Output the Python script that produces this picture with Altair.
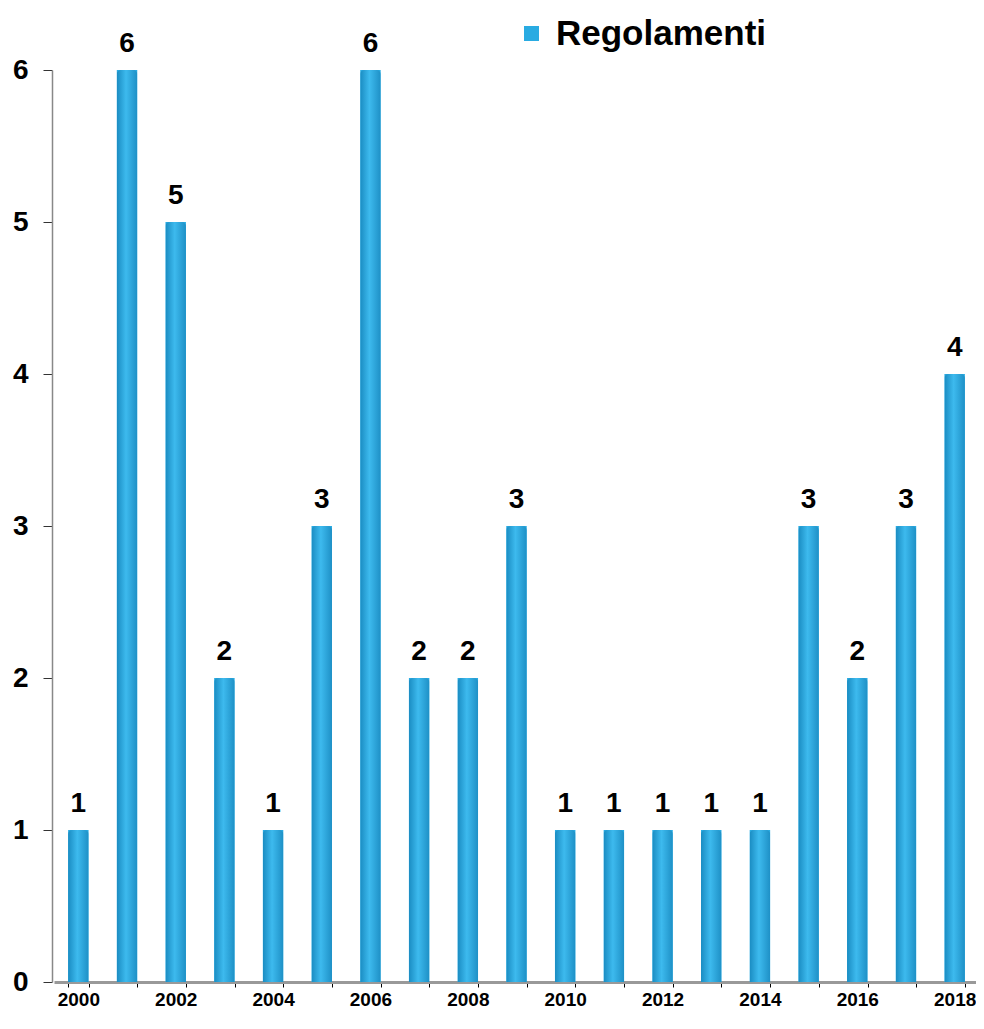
import altair as alt
import pandas as pd

years = [str(y) for y in range(2000, 2019)]
values = [1, 6, 5, 2, 1, 3, 6, 2, 2, 3, 1, 1, 1, 1, 1, 3, 2, 3, 4]
series = ["Regolamenti"] * len(years)

df = pd.DataFrame({"year": years, "value": values, "series": series})

FONT = "Liberation Sans"

x = alt.X("year:N", title=None, sort=years,
          scale=alt.Scale(paddingInner=0.58, paddingOuter=0.29, range=[2, 927]),
          axis=alt.Axis(labelAngle=0, labelFont=FONT, labelFontWeight="bold",
                        labelFontSize=19, labelColor="#000",
                        labelExpr="parseInt(datum.value) % 2 == 0 ? datum.value : ''",
                        tickBand="extent", tickColor="#000", tickSize=5,
                        domainColor="#999", domainWidth=3, labelPadding=3))
y = alt.Y("value:Q", title=None,
          scale=alt.Scale(domain=[0, 6], nice=False),
          axis=alt.Axis(values=[0, 1, 2, 3, 4, 5, 6], grid=False, labelFont=FONT,
                        labelFontWeight="bold", labelFontSize=28, labelColor="#000",
                        tickColor="#333", tickSize=9, domainColor="#888",
                        domainWidth=1.5, labelPadding=15))

bars = alt.Chart(df).mark_bar().encode(
    x=x, y=y,
    color=alt.Color("series:N", title=None,
                    scale=alt.Scale(range=["#29ABE2"]),
                    legend=alt.Legend(orient="none", legendX=462, legendY=-54,
                                      labelFont=FONT, labelFontWeight="bold",
                                      labelFontSize=35, labelColor="#000",
                                      labelLimit=500,
                                      symbolType="square", symbolSize=225,
                                      symbolStrokeWidth=0, labelOffset=7)),
)

shade = alt.Chart(df).mark_bar(
    color=alt.Gradient(gradient="linear", x1=0, x2=1, y1=0, y2=0,
                       stops=[alt.GradientStop(offset=0, color="#1A8CC2"),
                              alt.GradientStop(offset=0.45, color="#3DBAEE"),
                              alt.GradientStop(offset=1, color="#1E90C6")]),
    cornerRadiusTopLeft=4, cornerRadiusTopRight=4,
).encode(x=x, y=y)

labels = alt.Chart(df).mark_text(
    font=FONT, fontWeight="bold", fontSize=28, color="#000", dy=-12, baseline="bottom"
).encode(x=x, y=y, text="value:Q")

chart = alt.layer(bars, shade, labels).properties(
    width=916, height=912,
    autosize=alt.AutoSizeParams(type="none"),
    padding={"left": 44, "top": 62, "right": 8, "bottom": 34},
).configure_view(stroke=None).configure_legend(symbolOpacity=1)

chart.save("out.html", embed_options={"renderer": "svg", "actions": False})
